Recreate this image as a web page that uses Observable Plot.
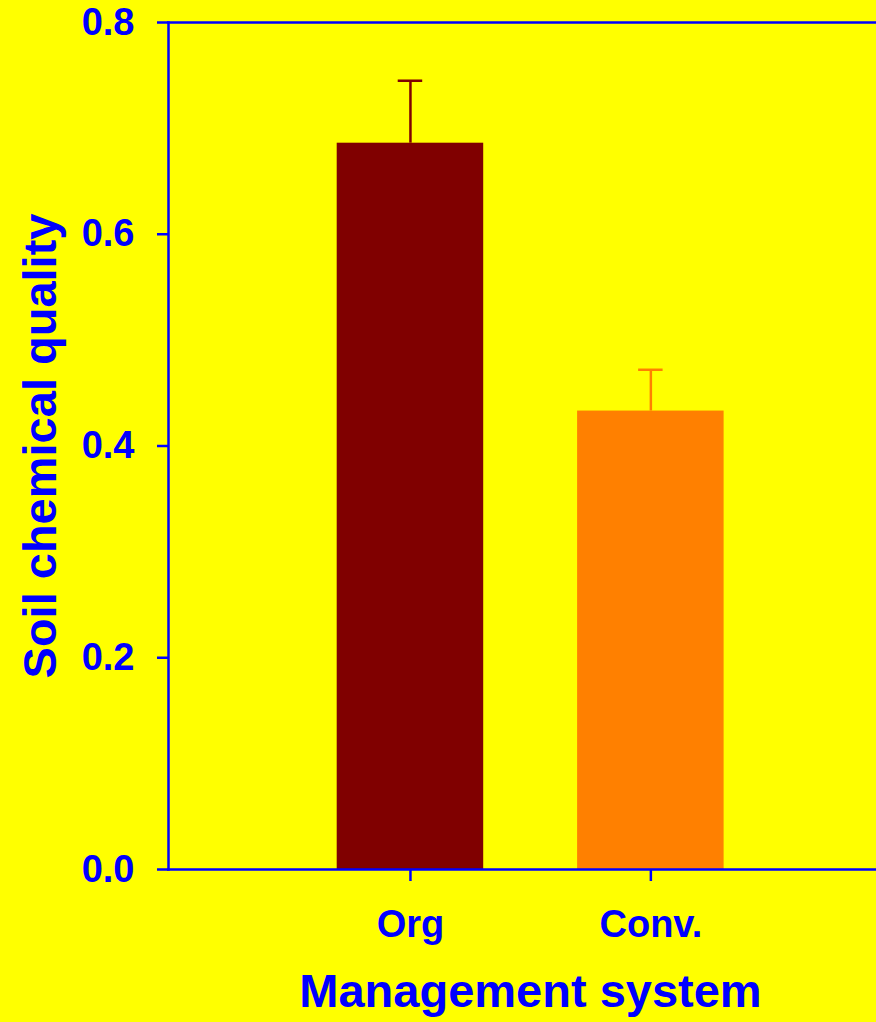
<!DOCTYPE html>
<html>
<head>
<meta charset="utf-8">
<script src="https://cdn.jsdelivr.net/npm/d3@7"></script>
<script src="https://cdn.jsdelivr.net/npm/@observablehq/plot@0.6"></script>
<style>
  html, body { margin: 0; padding: 0; background: #FFFF00; }
  #chart svg { display: block; }
</style>
</head>
<body>
<div id="chart"></div>
<script>
// Data
const systems = ["Org", "Conv."];
const means = [0.686, 0.433];
const errors = [0.059, 0.039];
const barColors = ["#800000", "#FF8000"];
const yTicks = [0, 0.2, 0.4, 0.6, 0.8];
const yLabel = "Soil chemical quality";
const xLabel = "Management system";

const data = systems.map((s, i) => ({system: s, mean: means[i], se: errors[i]}));

const blue = "#0000FF";
const lw = 2.5;

const chart = Plot.plot({
  width: 876,
  height: 1022,
  marginLeft: 168,
  marginRight: 0,
  marginTop: 22,
  marginBottom: 153,
  style: {
    background: "#FFFF00",
    fontFamily: "'Liberation Sans', Arial, Helvetica, sans-serif",
    fontWeight: "bold"
  },
  x: {
    type: "band",
    domain: systems,
    paddingInner: 0.3906,
    paddingOuter: 0.6678,
    align: 0.5254,
    round: false
  },
  y: {domain: [0, 0.8]},
  color: {domain: systems, range: barColors},
  marks: [
    Plot.barY(data, {x: "system", y: "mean", fill: "system"}),
    Plot.ruleX(data, {x: "system", y1: "mean", y2: d => d.mean + d.se, stroke: "system", strokeWidth: lw}),
    Plot.tickY(data, {x: "system", y: d => d.mean + d.se, stroke: "system", strokeWidth: lw, insetLeft: 61, insetRight: 61}),
    Plot.frame({anchor: "left", stroke: blue, strokeWidth: lw}),
    Plot.frame({anchor: "top", stroke: blue, strokeWidth: lw}),
    Plot.frame({anchor: "bottom", stroke: blue, strokeWidth: lw}),
    Plot.axisY({
      ticks: yTicks,
      tickFormat: d3.format(".1f"),
      tickSize: 11,
      tickPadding: 23,
      fontSize: 38,
      stroke: blue,
      fill: blue,
      strokeWidth: lw,
      label: null
    }),
    Plot.axisX({
      tickSize: 12,
      tickPadding: 29,
      fontSize: 38,
      stroke: blue,
      fill: blue,
      strokeWidth: lw,
      label: null
    }),
    Plot.text([yLabel], {
      text: d => d,
      frameAnchor: "left",
      rotate: -90,
      dx: -128,
      fontSize: 47,
      fontWeight: "bold",
      fill: blue,
      textAnchor: "middle",
      lineAnchor: "middle"
    }),
    Plot.text([xLabel], {
      text: d => d,
      frameAnchor: "bottom",
      dx: 8,
      dy: 122,
      fontSize: 47,
      fontWeight: "bold",
      fill: blue,
      textAnchor: "middle",
      lineAnchor: "middle"
    })
  ]
});

document.getElementById("chart").appendChild(chart);
</script>
</body>
</html>
